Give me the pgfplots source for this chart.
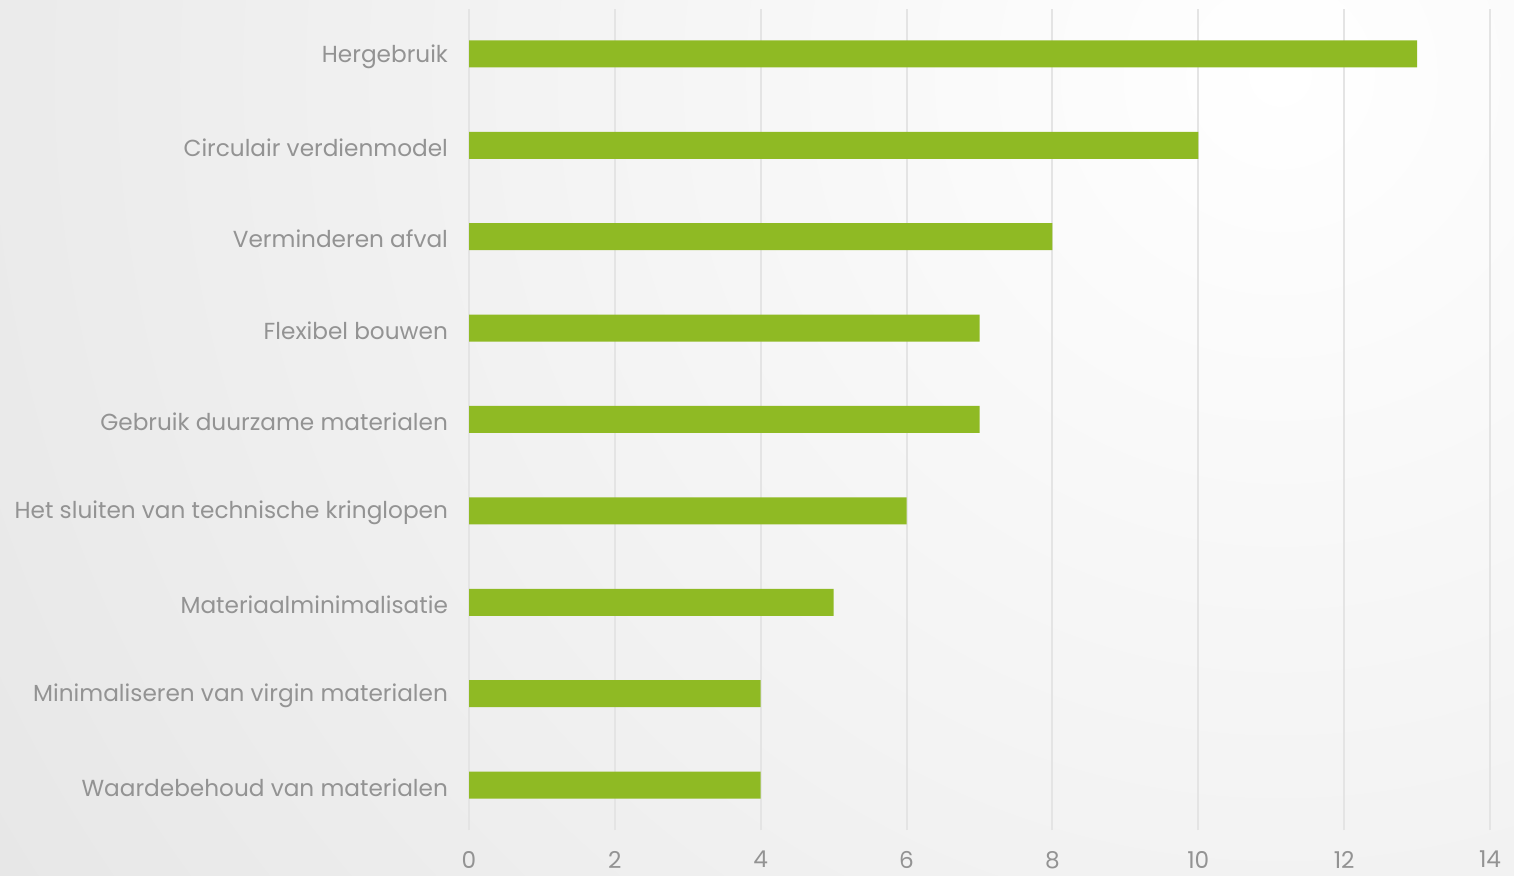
\documentclass[border=0pt]{standalone}
\usepackage{pgfplots}
\pgfplotsset{compat=1.18}
\usepackage{fontspec}
\setmainfont{Poppins}
\definecolor{bargreen}{HTML}{8FBA24}
\definecolor{txt}{HTML}{939393}
\definecolor{gridc}{HTML}{E4E4E4}
\definecolor{bgg}{HTML}{DCDCDC}
\begin{document}
\begin{tikzpicture}
\path[use as bounding box] (0pt,0pt) rectangle (757pt,437.5pt);
\begin{scope}
\clip (0pt,0pt) rectangle (757pt,437.5pt);
\shade[inner color=white, outer color=bgg] (640pt,400pt) circle (1100pt);
\end{scope}
\begin{axis}[
  at={(234.5pt,22.5pt)}, anchor=south west,
  scale only axis, width=510.5pt, height=410.5pt,
  xmin=0, xmax=14, ymin=-0.4925, ymax=8.4925,
  xbar, bar width=13.5pt,
  axis line style={draw=none},
  major tick length=0pt,
  xtick={0,2,...,14},
  ytick={0,...,8},
  yticklabels={Waardebehoud van materialen,Minimaliseren van virgin materialen,Materiaalminimalisatie,Het sluiten van technische kringlopen,Gebruik duurzame materialen,Flexibel bouwen,Verminderen afval,Circulair verdienmodel,Hergebruik},
  xmajorgrids, ymajorgrids=false,
  grid style={gridc, line width=1pt},
  tick label style={txt, font=\fontsize{11.6}{13.5}\selectfont},
  /pgf/number format/assume math mode=true,
  xticklabel style={yshift=-7pt},
  yticklabel style={xshift=-7pt, yshift=-1.2pt},
]
\addplot[fill=bargreen, draw=none] coordinates {(4,0) (4,1) (5,2) (6,3) (7,4) (7,5) (8,6) (10,7) (13,8)};
\end{axis}
\end{tikzpicture}
\end{document}
